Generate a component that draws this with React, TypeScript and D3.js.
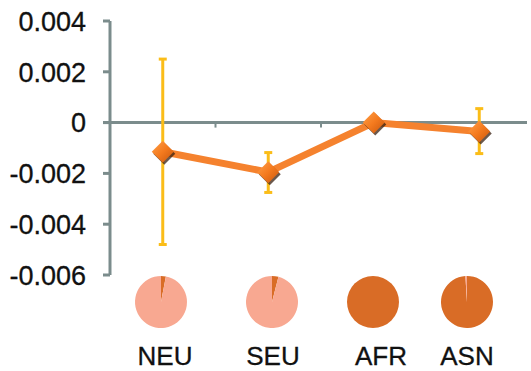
import React from "react";
import * as d3 from "d3";

const categories = ["NEU", "SEU", "AFR", "ASN"];
const means = [-0.00115, -0.00195, 0.0, -0.00035];
const errUpper = [0.0025, -0.00118, 0.00005, 0.00055];
const errLower = [-0.0048, -0.00275, -0.00005, -0.00122];
// share of the dark component in each population pie
const darkShare = [0.03, 0.04, 1.0, 0.99];
const yTicks = [0.004, 0.002, 0, -0.002, -0.004, -0.006];

const W = 531;
const H = 371;
const axisX = 110;
const plotRight = 532;
const yTop = 21;
const yBottom = 275;

const axisColor = "#7b8c8c";
const lineColor = "#f5822e";
const errColor = "#fbbd18";
const pieLight = "#f8a891";
const pieDark = "#d96c26";

export default function App() {
  const x = d3.scaleBand<string>().domain(categories).range([axisX, plotRight]);
  const y = d3.scaleLinear().domain([-0.006, 0.004]).range([yBottom, yTop]);
  const cx = (c: string) => (x(c) as number) + x.bandwidth() / 2;

  const line = d3
    .line<number>()
    .x((_, i) => cx(categories[i]))
    .y((d) => y(d));

  const pie = d3.pie<number>().sort(null);
  const arc = d3.arc<d3.PieArcDatum<number>>().innerRadius(0).outerRadius(26);
  const pieCenters = [161, 272, 373, 467];
  const labelCenters = [165, 273, 381, 467];

  return (
    <svg
      width={W}
      height={H}
      style={{ position: "absolute", left: 0, top: 0, background: "#fff" }}
      fontFamily="'Liberation Sans', Arial, sans-serif"
    >
      <defs>
        <linearGradient id="dia" x1="0" y1="0" x2="1" y2="1">
          <stop offset="0" stopColor="#ffa14a" />
          <stop offset="0.5" stopColor="#f47a1e" />
          <stop offset="1" stopColor="#c8560c" />
        </linearGradient>
      </defs>

      {/* y axis */}
      <line x1={axisX} x2={axisX} y1={yTop} y2={yBottom} stroke={axisColor} strokeWidth={3} />
      {yTicks.map((t) => (
        <g key={t}>
          <line x1={axisX - 7} x2={axisX} y1={y(t)} y2={y(t)} stroke={axisColor} strokeWidth={3} />
          <text
            x={86}
            y={y(t)}
            dy="0.36em"
            textAnchor="end"
            fontSize={27}
            fill="#111"
            stroke="#111"
            strokeWidth={0.3}
          >
            {t === 0 ? "0" : t.toFixed(3)}
          </text>
        </g>
      ))}

      {/* zero baseline with category ticks */}
      <line x1={axisX - 7} x2={527} y1={y(0)} y2={y(0)} stroke={axisColor} strokeWidth={3} />
      {categories.slice(1).map((c) => (
        <line
          key={c}
          x1={x(c) as number}
          x2={x(c) as number}
          y1={y(0)}
          y2={y(0) + 5}
          stroke={axisColor}
          strokeWidth={2}
        />
      ))}

      {/* error bars */}
      {categories.map((c, i) => (
        <g key={c} stroke={errColor} strokeWidth={3}>
          <line x1={cx(c)} x2={cx(c)} y1={y(errUpper[i])} y2={y(errLower[i])} />
          <line x1={cx(c) - 4} x2={cx(c) + 4} y1={y(errUpper[i])} y2={y(errUpper[i])} />
          <line x1={cx(c) - 4} x2={cx(c) + 4} y1={y(errLower[i])} y2={y(errLower[i])} />
        </g>
      ))}

      {/* mean line */}
      <path d={line(means) || ""} fill="none" stroke={lineColor} strokeWidth={7} />

      {/* diamond markers */}
      {categories.map((c, i) => {
        const px = cx(c);
        const py = y(means[i]);
        const r = 11;
        const pts = `${px},${py - r} ${px + r},${py} ${px},${py + r} ${px - r},${py}`;
        const sh = `${px + 1.5},${py - r + 2} ${px + r + 1.5},${py + 2} ${px + 1.5},${py + r + 2} ${px - r + 1.5},${py + 2}`;
        return (
          <g key={c}>
            <polygon points={sh} fill="#3a2010" opacity={0.75} />
            <polygon points={pts} fill="url(#dia)" />
          </g>
        );
      })}

      {/* population composition pies */}
      {categories.map((c, i) => (
        <g key={c} transform={`translate(${pieCenters[i]},302)`}>
          {pie([darkShare[i], 1 - darkShare[i]]).map((a, j) => (
            <path key={j} d={arc(a) || ""} fill={j === 0 ? pieDark : pieLight} />
          ))}
        </g>
      ))}

      {/* category labels */}
      {categories.map((c, i) => (
        <text
          key={c}
          x={labelCenters[i]}
          y={365}
          textAnchor="middle"
          fontSize={26}
          fill="#111"
          stroke="#111"
          strokeWidth={0.3}
        >
          {c}
        </text>
      ))}
    </svg>
  );
}
